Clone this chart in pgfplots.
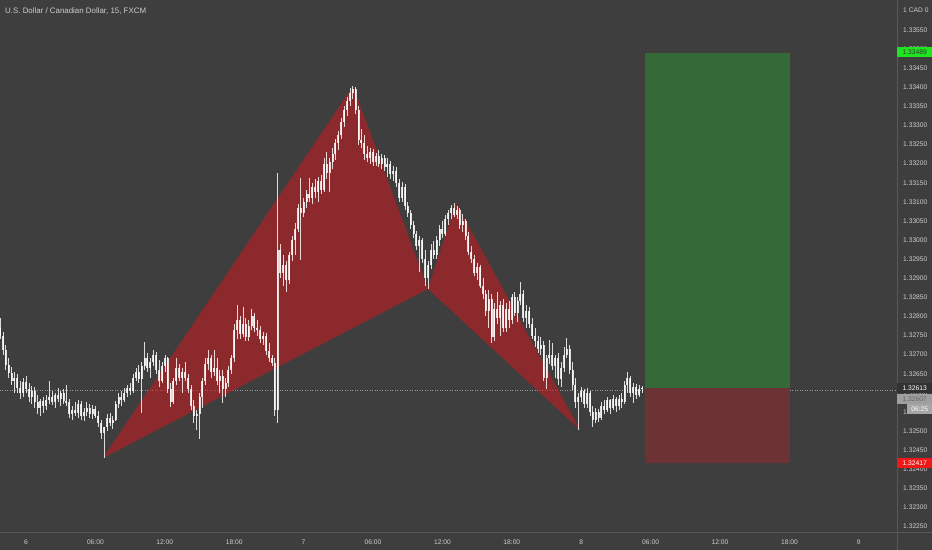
\documentclass[border=0pt]{standalone}
\usepackage{pgfplots}
\pgfplotsset{compat=1.18}
\usepackage{pgfplotstable}
\usepackage{fontspec}
\setmainfont{Liberation Sans}

\definecolor{bg}{RGB}{62,62,62}
\definecolor{sep}{RGB}{88,88,88}
\definecolor{lbl}{RGB}{205,205,205}
\definecolor{candle}{RGB}{255,255,255}
\definecolor{pattern}{RGB}{205,25,30}
\definecolor{target}{RGB}{53,105,55}
\definecolor{stop}{RGB}{109,50,51}
\definecolor{taggreen}{RGB}{30,230,30}
\definecolor{tagred}{RGB}{240,25,25}

% 15 min bars, i = bar number from day 6 00:00; prices in points above 1.32000
\pgfplotstableread{
i o h l c
-9 770 795 740 750
-8 750 760 700 712
-7 712 725 660 672
-6 672 690 640 652
-5 652 668 620 630
-4 630 655 600 640
-3 640 650 600 612
-2 612 630 585 600
-1 600 640 590 628
0 628 645 600 610
1 610 625 575 590
2 590 618 570 605
3 605 615 560 575
4 575 595 545 560
5 560 585 540 578
6 578 590 548 565
7 565 595 555 580
8 580 630 570 590
9 590 605 568 575
10 575 600 560 595
11 595 612 575 585
12 585 605 565 600
13 600 610 570 578
14 578 620 565 575
15 575 585 535 545
16 545 565 530 555
17 555 575 540 548
18 548 580 535 570
19 570 578 530 540
20 540 560 525 550
21 550 575 540 560
22 560 570 535 545
23 545 568 532 558
24 558 565 535 540
25 540 552 510 520
26 520 530 480 495
27 495 510 429 510
28 510 545 500 535
29 535 548 512 520
30 520 540 505 530
31 530 578 525 570
32 570 600 560 590
33 590 605 565 580
34 580 612 575 600
35 600 620 590 612
36 612 625 595 605
37 605 650 600 640
38 640 665 630 655
39 655 672 625 635
40 635 680 547 670
41 670 733 660 690
42 690 705 655 665
43 665 690 640 680
44 680 712 670 700
45 700 708 650 660
46 660 685 615 630
47 630 680 625 670
48 670 700 655 690
49 690 695 600 610
50 610 625 563 575
51 575 640 570 630
52 630 690 620 665
53 665 675 630 640
54 640 665 600 655
55 655 680 630 640
56 640 650 600 610
57 610 620 555 565
58 565 580 520 540
59 540 555 503 545
60 545 600 478 590
61 590 640 560 630
62 630 690 620 675
63 675 712 660 690
64 690 700 640 655
65 655 712 645 665
66 665 690 620 630
67 630 660 600 645
68 645 660 573 610
69 610 640 590 625
70 625 670 615 660
71 660 700 650 690
72 690 780 680 765
73 765 830 740 790
74 790 800 740 755
75 755 825 745 780
76 780 795 735 745
77 745 790 735 775
78 775 820 765 800
79 800 810 760 770
80 770 790 750 765
81 765 775 730 740
82 740 760 725 750
83 750 758 700 710
84 710 730 680 690
85 690 700 670 678
86 678 690 540 555
87 555 1176 521 974
88 974 990 900 915
89 915 960 880 935
90 935 945 864 895
91 895 970 885 960
92 960 1010 945 1000
93 1000 1045 960 1030
94 1030 1095 1020 1085
95 1085 1162 948 1070
96 1070 1110 1060 1100
97 1100 1130 1085 1120
98 1120 1162 1100 1110
99 1110 1150 1095 1140
100 1140 1160 1110 1125
101 1125 1165 1100 1155
102 1155 1170 1120 1130
103 1130 1215 1125 1200
104 1200 1230 1160 1175
105 1175 1215 1126 1205
106 1205 1240 1185 1225
107 1225 1265 1210 1255
108 1255 1285 1235 1275
109 1275 1320 1265 1310
110 1310 1350 1295 1340
111 1340 1375 1325 1365
112 1365 1398 1350 1385
113 1385 1403 1370 1395
114 1395 1400 1330 1340
115 1340 1350 1250 1262
116 1262 1290 1240 1255
117 1255 1275 1210 1225
118 1225 1245 1205 1215
119 1215 1240 1200 1230
120 1230 1238 1195 1205
121 1205 1228 1195 1220
122 1220 1235 1190 1200
123 1200 1225 1185 1215
124 1215 1222 1180 1190
125 1190 1215 1165 1200
126 1200 1208 1160 1172
127 1172 1195 1155 1180
128 1180 1190 1140 1150
129 1150 1160 1100 1110
130 1110 1152 1100 1140
131 1140 1148 1080 1090
132 1090 1100 1060 1070
133 1070 1078 1030 1040
134 1040 1050 1005 1015
135 1015 1025 975 985
136 985 1010 916 1000
137 1000 1005 940 950
138 950 975 880 900
139 900 945 872 935
140 935 990 925 975
141 975 998 950 960
142 960 1010 950 1000
143 1000 1040 985 1030
144 1030 1050 1005 1015
145 1015 1065 1010 1055
146 1055 1080 1040 1070
147 1070 1092 1055 1085
148 1085 1097 1060 1065
149 1065 1090 1055 1078
150 1078 1085 1030 1040
151 1040 1068 1020 1050
152 1050 1055 1000 1010
153 1010 1020 960 970
154 970 985 940 950
155 950 960 905 915
156 915 940 895 930
157 930 935 874 880
158 880 900 845 860
159 860 870 800 815
160 815 869 770 845
161 845 860 730 745
162 745 835 735 820
163 820 865 780 795
164 795 840 750 830
165 830 845 760 770
166 770 835 760 820
167 820 840 770 790
168 790 860 780 850
169 850 865 800 810
170 810 850 785 840
171 840 890 830 860
172 860 870 785 795
173 795 830 770 815
174 815 825 770 780
175 780 795 740 750
176 750 770 720 735
177 735 750 705 715
178 715 745 700 725
179 725 735 630 640
180 640 700 610 690
181 690 738 675 700
182 700 730 660 670
183 670 700 640 690
184 690 705 620 635
185 635 680 615 665
186 665 720 655 700
187 700 743 690 715
188 715 725 650 660
189 660 680 607 620
190 620 640 560 575
191 575 600 503 590
192 590 615 575 605
193 605 610 560 570
194 570 612 560 600
195 600 605 540 550
196 550 565 511 530
197 530 560 520 550
198 550 558 525 535
199 535 575 530 565
200 565 580 545 555
201 555 590 550 580
202 580 585 545 560
203 560 595 555 585
204 585 590 550 565
205 565 595 555 585
206 585 600 560 575
207 575 630 570 620
208 620 655 600 640
209 640 645 590 600
210 600 625 573 615
211 615 622 585 595
212 595 620 590 610
213 610 618 600 613
}\candles

\begin{document}
\begin{tikzpicture}
\useasboundingbox (0,0) rectangle (932bp,550bp);
\fill[bg] (0,0) rectangle (932bp,550bp);

\begin{axis}[
  at={(0,18bp)}, anchor=south west,
  scale only axis, width=897bp, height=532bp,
  xmin=-8.99, xmax=301.2, ymin=235.7, ymax=1628.5,
  axis line style={draw=none}, tick style={draw=none},
  xtick={0,24,...,288},
  xticklabels={6,06:00,12:00,18:00,7,06:00,12:00,18:00,8,06:00,12:00,18:00,9},
  ytick={250,300,...,1550},
  yticklabels={1.32250,1.32300,1.32350,1.32400,1.32450,1.32500,1.32550,1.32600,1.32650,1.32700,1.32750,1.32800,1.32850,1.32900,1.32950,1.33000,1.33050,1.33100,1.33150,1.33200,1.33250,1.33300,1.33350,1.33400,1.33450,1.33500,1.33550},
  yticklabel pos=right,
  ticklabel style={font=\fontsize{6.7bp}{8bp}\selectfont, text=lbl, inner sep=0pt},
  xticklabel style={anchor=center, yshift=-10bp},
  yticklabel style={anchor=west, xshift=6bp},
]

% current price line
\addplot[gray!80, line width=0.5bp, dash pattern=on 1bp off 1.5bp] coordinates {(-9,607) (301.2,607)};

% XABCD pattern
\addplot[fill=pattern, fill opacity=0.55, draw=none] coordinates {(26.6,429) (113.1,1403) (139,872)} -- cycle;
\addplot[fill=pattern, fill opacity=0.55, draw=none] coordinates {(139,872) (148.7,1097) (191.6,503)} -- cycle;

% long position
\addplot[fill=target, draw=none] coordinates {(214,613) (264.2,613) (264.2,1489) (214,1489)} -- cycle;
\addplot[fill=stop, draw=none] coordinates {(214,417) (264.2,417) (264.2,613) (214,613)} -- cycle;

% wicks
\addplot[draw=none, mark=none, forget plot,
  error bars/.cd, y dir=both, y explicit, error mark=none,
  error bar style={draw=candle, draw opacity=0.82, line width=0.6bp}]
  table[x=i, y expr={(\thisrow{h}+\thisrow{l})/2}, y error expr={(\thisrow{h}-\thisrow{l})/2}] {\candles};
% bodies
\addplot[draw=none, mark=none, forget plot,
  error bars/.cd, y dir=both, y explicit, error mark=none,
  error bar style={draw=candle, draw opacity=0.82, line width=2bp}]
  table[x=i, y expr={(\thisrow{o}+\thisrow{c})/2}, y error expr={max(abs(\thisrow{o}-\thisrow{c})/2,1.5)}] {\candles};
\end{axis}

\draw[sep, line width=0.6bp] (0,18bp) -- (932bp,18bp);
\draw[sep, line width=0.6bp] (897bp,0) -- (897bp,550bp);

\node[anchor=west, text=lbl, font=\fontsize{7.9bp}{9bp}\selectfont, inner sep=0pt] at (5bp,539bp) {U.S. Dollar / Canadian Dollar, 15, FXCM};
\node[anchor=west, text=lbl, font=\fontsize{6.7bp}{8bp}\selectfont, inner sep=0pt] at (903bp,540bp) {1 CAD 0};

\tikzset{tag/.style={anchor=west, inner sep=0pt, minimum height=9.5bp, minimum width=35bp, font=\fontsize{6.7bp}{8bp}\selectfont}}
\node[tag, fill=taggreen, text=black!80] at (897bp,498bp) {1.33489};
\node[tag, fill=black!20!bg, text=white] at (897bp,162bp) {1.32613};
\node[tag, fill=gray!75, text=black!60] at (897bp,151bp) {1.32607};
\node[tag, fill=gray!70, text=white, minimum width=25bp] at (907bp,141bp) {06:25};
\node[tag, fill=tagred, text=white] at (897bp,87bp) {1.32417};
\end{tikzpicture}
\end{document}
